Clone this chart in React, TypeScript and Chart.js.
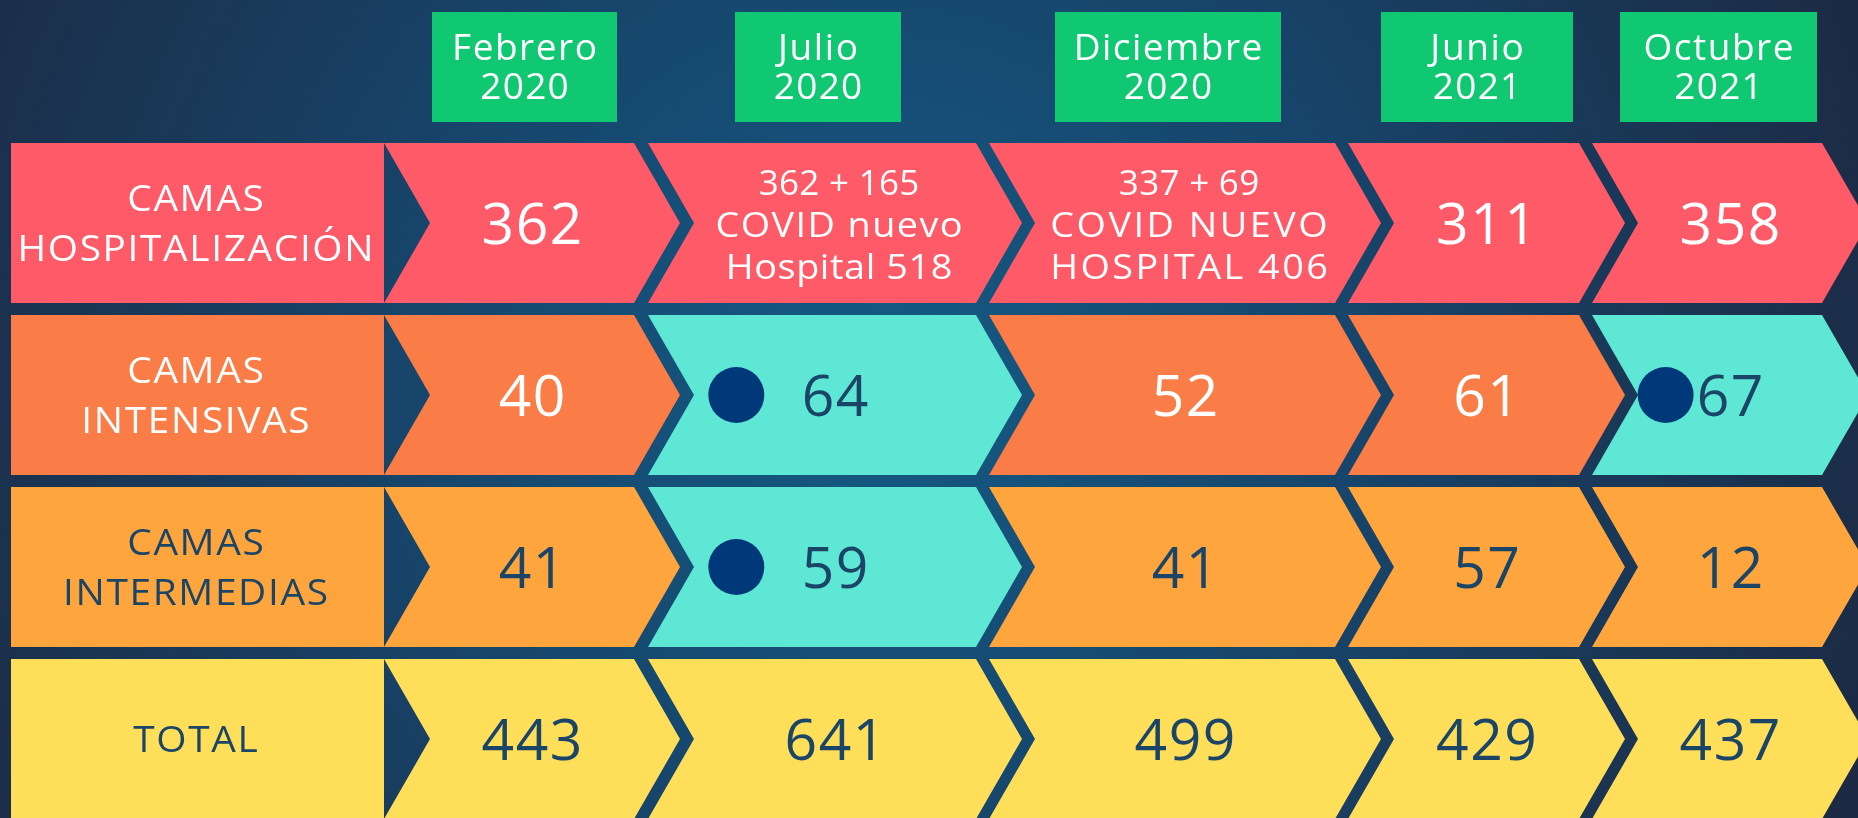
import React, { useEffect, useRef } from 'react';
import { Chart, registerables } from 'chart.js';

Chart.register(...registerables);

// ---------- data ----------
const months: string[][] = [
  ['Febrero', '2020'],
  ['Julio', '2020'],
  ['Diciembre', '2020'],
  ['Junio', '2021'],
  ['Octubre', '2021'],
];
const rowLabels: string[][] = [
  ['CAMAS', 'HOSPITALIZACIÓN'],
  ['CAMAS', 'INTENSIVAS'],
  ['CAMAS', 'INTERMEDIAS'],
  ['TOTAL'],
];
const camasHospitalizacion = [362, 518, 406, 311, 358];
const hospitalizacionDetalle: (string[] | null)[] = [
  null,
  ['362 + 165', 'COVID nuevo', 'Hospital 518'],
  ['337 + 69', 'COVID NUEVO', 'HOSPITAL 406'],
  null,
  null,
];
const camasIntensivas = [40, 64, 52, 61, 67];
const camasIntermedias = [41, 59, 41, 57, 12];
const totalCamas = [443, 641, 499, 429, 437];
const intensivasDestacadas = [false, true, false, false, true];
const intermediasDestacadas = [false, true, false, false, false];

// ---------- layout & style ----------
const LAYOUT = {
  width: 1858,
  canvasHeight: 825,
  viewHeight: 818,
  top: 137,
  rowThickness: 160,
  labelSpan: [11, 384],
  colStart: [384, 648, 989, 1348, 1592],
  colEnd: [680, 1022, 1381, 1625, 1868],
  notch: 46,
  headerSpan: [[432, 617], [735, 901], [1055, 1281], [1381, 1573], [1620, 1817]],
  headerTop: 12,
  headerBottom: 122,
  dotRadius: 28,
};
const FONT = '"Open Sans", "Noto Sans", sans-serif';
const ROW_COLORS = ['#ff5a67', '#fa7c46', '#ffa53e', '#ffde59'];
const ROW_TEXT = ['#ffffff', '#ffffff', '#1b4567', '#1b4567'];
const HIGHLIGHT = '#5ee7d4';
const DOT = '#00397a';
const GREEN = '#11c872';
const DARK_TEXT = '#1b4567';

const rowValues = [camasHospitalizacion, camasIntensivas, camasIntermedias, totalCamas];
const rowHighlights = [months.map(() => false), intensivasDestacadas, intermediasDestacadas, months.map(() => false)];

type TextStyle = { size: number; gap: number; base: number; capExtra: number; stretch: number };

// imitate a wide geometric face: slight horizontal stretch for words, extra tracking for capitals
function drawLines(ctx: CanvasRenderingContext2D, lines: string[], cx: number, cy: number, color: string, st: TextStyle) {
  ctx.save();
  ctx.font = `400 ${st.size}px ${FONT}`;
  ctx.fillStyle = color;
  ctx.textAlign = 'center';
  ctx.textBaseline = 'alphabetic';
  const cap = st.size * 0.714;
  lines.forEach((line, i) => {
    const letters = line.replace(/[^A-Za-zÁÉÍÓÚáéíóúÑñ]/g, '');
    const upper = letters.replace(/[^A-ZÁÉÍÓÚÑ]/g, '').length;
    const sp = letters.length ? st.base + st.capExtra * (upper / letters.length) : st.base;
    const sx = letters.length ? st.stretch : 1;
    const y = cy + (i - (lines.length - 1) / 2) * st.gap + cap / 2;
    ctx.save();
    (ctx as any).letterSpacing = `${sp}px`;
    ctx.translate(cx, 0);
    ctx.scale(sx, 1);
    ctx.fillText(line, sp / 2, y);
    ctx.restore();
  });
  ctx.restore();
}

const HEADER_TEXT: TextStyle = { size: 37, gap: 39, base: 1.3, capExtra: 1.5, stretch: 1 };
const LABEL_TEXT: TextStyle = { size: 36, gap: 50, base: 0, capExtra: 1.5, stretch: 1.08 };
const DETAIL_TEXT: TextStyle = { size: 35, gap: 42, base: 0.3, capExtra: 2.0, stretch: 1.08 };
const VALUE_TEXT: TextStyle = { size: 57, gap: 0, base: 1.5, capExtra: 0, stretch: 1 };

const chevronPlugin = {
  id: 'chevronTable',
  beforeDraw(chart: any) {
    const { ctx, width, height } = chart;
    const g = ctx.createRadialGradient(880, 380, 0, 880, 380, 1050);
    g.addColorStop(0, '#145a84');
    g.addColorStop(0.45, '#17456b');
    g.addColorStop(1, '#1c2a43');
    ctx.save();
    ctx.fillStyle = g;
    ctx.fillRect(0, 0, width, height);
    ctx.restore();
  },
  beforeDatasetDraw(chart: any, args: any) {
    const ctx = chart.ctx as CanvasRenderingContext2D;
    const ds = chart.data.datasets[args.index];
    const d = LAYOUT.notch;
    args.meta.data.forEach((el: any, i: number) => {
      const { x, y, base, height } = el.getProps(['x', 'y', 'base', 'height'], true);
      const left = Math.min(x, base);
      const right = Math.max(x, base);
      const top = y - height / 2;
      const bottom = y + height / 2;
      const colors = ds.backgroundColor as string[];
      ctx.save();
      ctx.fillStyle = colors[i];
      ctx.beginPath();
      if (ds.shape === 'rect') {
        ctx.rect(left, top, right - left, bottom - top);
      } else {
        ctx.moveTo(left, top);
        ctx.lineTo(right - d, top);
        ctx.lineTo(right, y);
        ctx.lineTo(right - d, bottom);
        ctx.lineTo(left, bottom);
        ctx.lineTo(left + d, y);
        ctx.closePath();
      }
      ctx.fill();
      ctx.restore();
    });
    return false;
  },
  afterDatasetsDraw(chart: any) {
    const ctx = chart.ctx as CanvasRenderingContext2D;
    const xs = chart.scales.x;
    const d = LAYOUT.notch;

    // header boxes (month categories)
    months.forEach((m, c) => {
      const [a, b] = LAYOUT.headerSpan[c];
      const l = xs.getPixelForValue(a);
      const r = xs.getPixelForValue(b);
      ctx.save();
      ctx.fillStyle = GREEN;
      ctx.fillRect(l, LAYOUT.headerTop, r - l, LAYOUT.headerBottom - LAYOUT.headerTop);
      ctx.restore();
      drawLines(ctx, m, (l + r) / 2, (LAYOUT.headerTop + LAYOUT.headerBottom) / 2 - 1, '#ffffff', HEADER_TEXT);
    });

    // row labels
    const labelMeta = chart.getDatasetMeta(0);
    labelMeta.data.forEach((el: any, r: number) => {
      const { x, y, base } = el.getProps(['x', 'y', 'base'], true);
      drawLines(ctx, rowLabels[r], (x + base) / 2 - 2, y, ROW_TEXT[r], LABEL_TEXT);
    });

    // cell values
    months.forEach((_, c) => {
      const meta = chart.getDatasetMeta(c + 1);
      meta.data.forEach((el: any, r: number) => {
        const { x, y, base } = el.getProps(['x', 'y', 'base'], true);
        const left = Math.min(x, base);
        const right = Math.max(x, base);
        const cx = (left + right) / 2;
        const hl = rowHighlights[r][c];
        const color = hl ? DARK_TEXT : ROW_TEXT[r];
        if (r === 0 && hospitalizacionDetalle[c]) {
          drawLines(ctx, hospitalizacionDetalle[c] as string[], cx + 4, y + 2, color, DETAIL_TEXT);
          return;
        }
        if (hl) {
          const bodyL = left + d;
          const bodyR = right - d;
          const dx = bodyL + (bodyR - bodyL) * 0.15;
          ctx.save();
          ctx.fillStyle = DOT;
          ctx.beginPath();
          ctx.arc(dx, y, LAYOUT.dotRadius, 0, Math.PI * 2);
          ctx.fill();
          ctx.restore();
        }
        drawLines(ctx, [String(rowValues[r][c])], cx, y + 1, color, VALUE_TEXT);
      });
    });
  },
};

export default function App() {
  const ref = useRef<HTMLCanvasElement | null>(null);
  useEffect(() => {
    document.body.style.margin = '0';
    const canvas = ref.current;
    if (!canvas) return;
    const rowCount = rowLabels.length;
    const datasets: any[] = [
      {
        label: 'Etiquetas',
        shape: 'rect',
        data: rowLabels.map(() => [LAYOUT.labelSpan[0], LAYOUT.labelSpan[1]]),
        backgroundColor: ROW_COLORS.slice(0, rowCount),
        grouped: false,
        barThickness: LAYOUT.rowThickness,
      },
      ...months.map((m, c) => ({
        label: m.join(' '),
        shape: 'chevron',
        data: rowLabels.map(() => [LAYOUT.colStart[c], LAYOUT.colEnd[c]]),
        backgroundColor: rowLabels.map((_, r) => (rowHighlights[r][c] ? HIGHLIGHT : ROW_COLORS[r])),
        grouped: false,
        barThickness: LAYOUT.rowThickness,
      })),
    ];
    const chart = new Chart(canvas, {
      type: 'bar',
      data: { labels: rowLabels.map((l) => l.join(' ')), datasets },
      options: {
        indexAxis: 'y',
        responsive: false,
        animation: false,
        devicePixelRatio: 1,
        events: [],
        layout: { padding: { top: LAYOUT.top, bottom: 0, left: 0, right: 0 } },
        scales: {
          x: { type: 'linear', min: 0, max: LAYOUT.width, display: false },
          y: { type: 'category', display: false, offset: true },
        },
        plugins: { legend: { display: false }, tooltip: { enabled: false } },
      } as any,
      plugins: [chevronPlugin as any],
    });
    return () => chart.destroy();
  }, []);
  return (
    <div style={{ width: LAYOUT.width, height: LAYOUT.viewHeight, overflow: 'hidden' }}>
      <canvas
        ref={ref}
        width={LAYOUT.width}
        height={LAYOUT.canvasHeight}
        style={{ display: 'block', width: LAYOUT.width, height: LAYOUT.canvasHeight }}
      />
    </div>
  );
}
